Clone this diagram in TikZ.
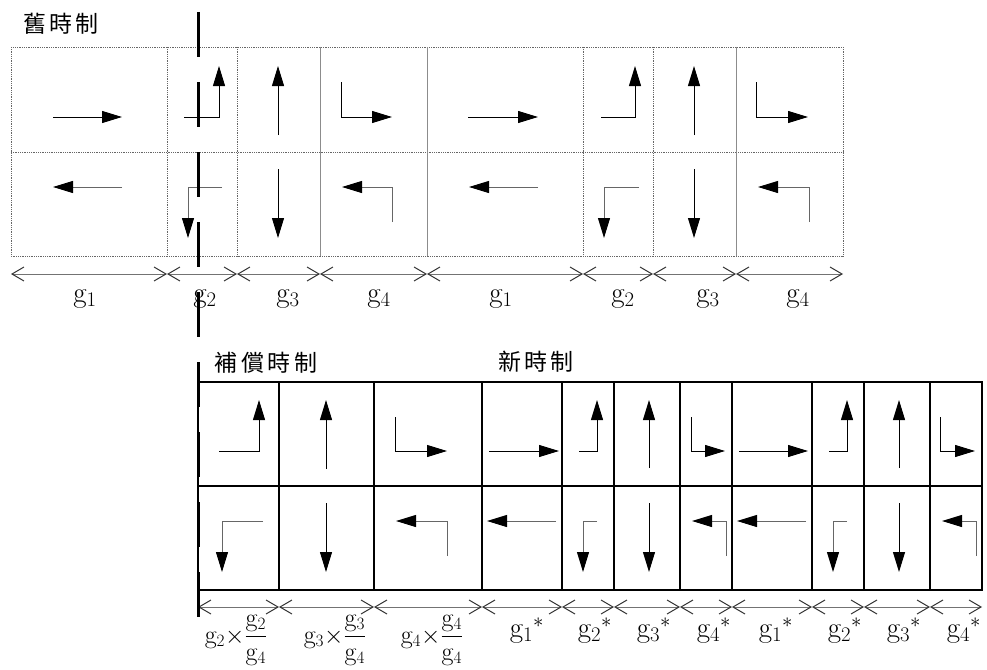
\documentclass[tikz,border=0pt]{standalone}
\usepackage{amsmath}
\usepackage{fontspec}
\newfontfamily\cjk[LetterSpace=15]{Noto Sans CJK TC}
\usetikzlibrary{arrows.meta}

\begin{document}
\begin{tikzpicture}[x=1pt, y=-1pt,
    oldgrid/.style={draw=black!60, densely dotted, line width=0.8pt},
    oldline/.style={draw=black!45, line width=0.8pt},
    newgrid/.style={draw=black, line width=1.1pt},
    flow/.style={-{Triangle[length=20pt,width=12pt,color=black]}, line width=1pt},
    flowg/.style={flow, draw=black!60},
    dimseg/.style={{Straight Barb[length=12pt,width=14pt,color=black!80]}-{Straight Barb[length=12pt,width=14pt,color=black!80]}, draw=black!55, line width=1pt},
    cutline/.style={line width=3pt, dash pattern=on 45pt off 25pt},
    lbl/.style={font=\fontsize{29}{32}\selectfont, inner sep=0pt, anchor=base},
    fraclbl/.style={lbl, font=\fontsize{26}{29}\selectfont},
    heading/.style={font=\cjk\fontsize{23}{26}\selectfont, inner sep=0pt}
]
\useasboundingbox (0,0) rectangle (987,669);

% --- old timing plan ---
\node[heading] (oldt) at (61,24) {舊時制};
\draw[oldgrid] (11,47) rectangle (843,256) (11,152) -- (843,152);
\draw[oldgrid] (167,47) -- (167,256) (237,47) -- (237,256) (583,47) -- (583,256) (653,47) -- (653,256);
\draw[oldline] (320,47) -- (320,256) (427,47) -- (427,256) (736,47) -- (736,256);

\draw[flow] (53,117) -- (122,117);      \draw[flowg] (122,187) -- (53,187);
\draw[flow] (184,117) -| (219,66);      \draw[flowg] (222,187) -| (188,238);
\draw[flow] (278,135) -- (278,66);      \draw[flow] (278,169) -- (278,238);
\draw[flow] (341,82) |- (392,117);      \draw[flowg] (392,222) |- (342,187);
\draw[flow] (468,117) -- (538,117);     \draw[flowg] (538,187) -- (469,187);
\draw[flow] (601,117) -| (635,66);      \draw[flowg] (639,187) -| (604,238);
\draw[flow] (694,135) -- (694,66);      \draw[flow] (694,169) -- (694,238);
\draw[flow] (756,82) |- (808,117);      \draw[flowg] (809,222) |- (758,187);

\coordinate (t0) at (11,274);  \coordinate (t1) at (167,274); \coordinate (t2) at (237,274);
\coordinate (t3) at (320,274); \coordinate (t4) at (427,274); \coordinate (t5) at (583,274);
\coordinate (t6) at (653,274); \coordinate (t7) at (736,274); \coordinate (t8) at (843,274);
\draw[dimseg] (t0) -- (t1); \draw[dimseg] (t1) -- (t2); \draw[dimseg] (t2) -- (t3);
\draw[dimseg] (t3) -- (t4); \draw[dimseg] (t4) -- (t5); \draw[dimseg] (t5) -- (t6);
\draw[dimseg] (t6) -- (t7); \draw[dimseg] (t7) -- (t8);

\node[lbl] (o1) at (85,302) {$\mathrm{g}_1$};
\node[lbl] (o2) at (205,302) {$\mathrm{g}_2$};
\node[lbl] (o3) at (288,302) {$\mathrm{g}_3$};
\node[lbl] (o4) at (379,302) {$\mathrm{g}_4$};
\node[lbl] (o5) at (501,302) {$\mathrm{g}_1$};
\node[lbl] (o6) at (623,302) {$\mathrm{g}_2$};
\node[lbl] (o7) at (708,302) {$\mathrm{g}_3$};
\node[lbl] (o8) at (798,302) {$\mathrm{g}_4$};

% --- compensation + new timing plan ---
\node[heading] (compt) at (266,363) {補償時制};
\node[heading] (newt) at (536,362) {新時制};
\draw[newgrid] (198,382) rectangle (982,590) (198,486) -- (982,486);
\draw[newgrid] (279,382) -- (279,590) (374,382) -- (374,590) (482,382) -- (482,590)
    (562,382) -- (562,590) (614,382) -- (614,590) (680,382) -- (680,590)
    (732,382) -- (732,590) (812,382) -- (812,590) (864,382) -- (864,590) (930,382) -- (930,590);

\draw[flow] (219,451) -| (259,400);     \draw[flowg] (263,521) -| (222,572);
\draw[flow] (326,469) -- (326,400);     \draw[flow] (326,503) -- (326,572);
\draw[flow] (395,417) |- (447,451);     \draw[flowg] (447,556) |- (396,521);
\draw[flow] (489,451) -- (559,451);     \draw[flowg] (556,521) -- (487,521);
\draw[flow] (579,451) -| (597,400);     \draw[flowg] (597,521) -| (583,572);
\draw[flow] (649,468) -- (649,400);     \draw[flow] (649,503) -- (649,572);
\draw[flow] (691,417) |- (725,451);     \draw[flowg] (726,556) |- (692,521);
\draw[flow] (739,451) -- (808,451);     \draw[flowg] (806,521) -- (737,521);
\draw[flow] (829,451) -| (847,400);     \draw[flowg] (847,521) -| (833,572);
\draw[flow] (899,468) -- (899,400);     \draw[flow] (899,503) -- (899,572);
\draw[flow] (940,417) |- (975,451);     \draw[flowg] (976,556) |- (942,521);

\coordinate (b0) at (198,607); \coordinate (b1) at (279,607); \coordinate (b2) at (374,607);
\coordinate (b3) at (482,607); \coordinate (b4) at (562,607); \coordinate (b5) at (614,607);
\coordinate (b6) at (680,607); \coordinate (b7) at (732,607); \coordinate (b8) at (812,607);
\coordinate (b9) at (864,607); \coordinate (b10) at (930,607); \coordinate (b11) at (982,607);
\draw[dimseg] (b0) -- (b1); \draw[dimseg] (b1) -- (b2); \draw[dimseg] (b2) -- (b3);
\draw[dimseg] (b3) -- (b4); \draw[dimseg] (b4) -- (b5); \draw[dimseg] (b5) -- (b6);
\draw[dimseg] (b6) -- (b7); \draw[dimseg] (b7) -- (b8); \draw[dimseg] (b8) -- (b9);
\draw[dimseg] (b9) -- (b10); \draw[dimseg] (b10) -- (b11);

\node[fraclbl] (c1) at (236,643) {$\mathrm{g}_2{\times}\dfrac{\mathrm{g}_2}{\mathrm{g}_4}$};
\node[fraclbl] (c2) at (335,643) {$\mathrm{g}_3{\times}\dfrac{\mathrm{g}_3}{\mathrm{g}_4}$};
\node[fraclbl] (c3) at (432,643) {$\mathrm{g}_4{\times}\dfrac{\mathrm{g}_4}{\mathrm{g}_4}$};
\node[lbl] (n1) at (527,637) {$\mathrm{g}_1{}^{*}$};
\node[lbl] (n2) at (595,637) {$\mathrm{g}_2{}^{*}$};
\node[lbl] (n3) at (654,637) {$\mathrm{g}_3{}^{*}$};
\node[lbl] (n4) at (714,637) {$\mathrm{g}_4{}^{*}$};
\node[lbl] (n5) at (776,637) {$\mathrm{g}_1{}^{*}$};
\node[lbl] (n6) at (845,637) {$\mathrm{g}_2{}^{*}$};
\node[lbl] (n7) at (904,637) {$\mathrm{g}_3{}^{*}$};
\node[lbl] (n8) at (964,637) {$\mathrm{g}_4{}^{*}$};

% switch-over instant
\coordinate (cuttop) at (198,12);
\coordinate (cutbot) at (198,617);
\draw[cutline] (cuttop) -- (cutbot);

\end{tikzpicture}
\end{document}
